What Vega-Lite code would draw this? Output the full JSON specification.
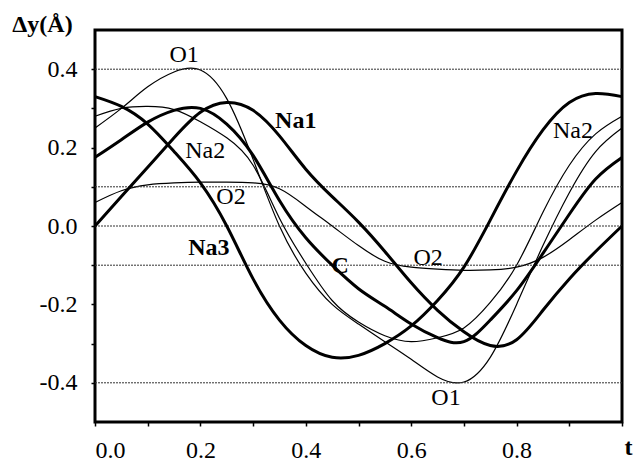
{
  "$schema": "https://vega.github.io/schema/vega-lite/v6.json",
  "width": 527,
  "height": 392,
  "autosize": {"type": "none"},
  "padding": {"left": 95, "top": 30, "right": 17, "bottom": 41},
  "background": "white",
  "config": {
    "view": {"stroke": "black", "strokeWidth": 3},
    "font": "Liberation Serif"
  },
  "datasets": {
    "curves": [
      {"s":"O1","t":0,"y":0.25},{"s":"O1","t":0.05,"y":0.30},{"s":"O1","t":0.1,"y":0.355},{"s":"O1","t":0.15,"y":0.393},{"s":"O1","t":0.2,"y":0.398},{"s":"O1","t":0.25,"y":0.325},{"s":"O1","t":0.3,"y":0.17},{"s":"O1","t":0.35,"y":0.0},{"s":"O1","t":0.4,"y":-0.12},{"s":"O1","t":0.45,"y":-0.2},{"s":"O1","t":0.5,"y":-0.25},{"s":"O1","t":0.55,"y":-0.295},{"s":"O1","t":0.6,"y":-0.34},{"s":"O1","t":0.65,"y":-0.385},{"s":"O1","t":0.7,"y":-0.398},{"s":"O1","t":0.75,"y":-0.335},{"s":"O1","t":0.8,"y":-0.2},{"s":"O1","t":0.85,"y":-0.05},{"s":"O1","t":0.9,"y":0.085},{"s":"O1","t":0.95,"y":0.19},{"s":"O1","t":1,"y":0.25},
      {"s":"Na2","t":0,"y":0.28},{"s":"Na2","t":0.05,"y":0.30},{"s":"Na2","t":0.1,"y":0.305},{"s":"Na2","t":0.15,"y":0.297},{"s":"Na2","t":0.2,"y":0.266},{"s":"Na2","t":0.25,"y":0.225},{"s":"Na2","t":0.3,"y":0.155},{"s":"Na2","t":0.35,"y":0.02},{"s":"Na2","t":0.4,"y":-0.095},{"s":"Na2","t":0.45,"y":-0.19},{"s":"Na2","t":0.5,"y":-0.245},{"s":"Na2","t":0.55,"y":-0.28},{"s":"Na2","t":0.6,"y":-0.295},{"s":"Na2","t":0.65,"y":-0.285},{"s":"Na2","t":0.7,"y":-0.26},{"s":"Na2","t":0.75,"y":-0.195},{"s":"Na2","t":0.8,"y":-0.1},{"s":"Na2","t":0.85,"y":0.035},{"s":"Na2","t":0.9,"y":0.155},{"s":"Na2","t":0.95,"y":0.235},{"s":"Na2","t":1,"y":0.28},
      {"s":"O2","t":0,"y":0.06},{"s":"O2","t":0.05,"y":0.09},{"s":"O2","t":0.1,"y":0.105},{"s":"O2","t":0.15,"y":0.11},{"s":"O2","t":0.2,"y":0.112},{"s":"O2","t":0.25,"y":0.112},{"s":"O2","t":0.3,"y":0.11},{"s":"O2","t":0.35,"y":0.095},{"s":"O2","t":0.4,"y":0.05},{"s":"O2","t":0.45,"y":0.0},{"s":"O2","t":0.5,"y":-0.05},{"s":"O2","t":0.55,"y":-0.09},{"s":"O2","t":0.6,"y":-0.105},{"s":"O2","t":0.65,"y":-0.11},{"s":"O2","t":0.7,"y":-0.113},{"s":"O2","t":0.75,"y":-0.112},{"s":"O2","t":0.8,"y":-0.105},{"s":"O2","t":0.85,"y":-0.08},{"s":"O2","t":0.9,"y":-0.035},{"s":"O2","t":0.95,"y":0.015},{"s":"O2","t":1,"y":0.06},
      {"s":"Na1","t":0,"y":0},{"s":"Na1","t":0.05,"y":0.075},{"s":"Na1","t":0.1,"y":0.15},{"s":"Na1","t":0.15,"y":0.225},{"s":"Na1","t":0.2,"y":0.29},{"s":"Na1","t":0.25,"y":0.315},{"s":"Na1","t":0.3,"y":0.295},{"s":"Na1","t":0.35,"y":0.23},{"s":"Na1","t":0.4,"y":0.145},{"s":"Na1","t":0.45,"y":0.075},{"s":"Na1","t":0.5,"y":0.01},{"s":"Na1","t":0.55,"y":-0.065},{"s":"Na1","t":0.6,"y":-0.145},{"s":"Na1","t":0.65,"y":-0.215},{"s":"Na1","t":0.7,"y":-0.27},{"s":"Na1","t":0.75,"y":-0.305},{"s":"Na1","t":0.8,"y":-0.29},{"s":"Na1","t":0.85,"y":-0.215},{"s":"Na1","t":0.9,"y":-0.135},{"s":"Na1","t":0.95,"y":-0.065},{"s":"Na1","t":1,"y":0},
      {"s":"Na3","t":0,"y":0.33},{"s":"Na3","t":0.05,"y":0.305},{"s":"Na3","t":0.1,"y":0.26},{"s":"Na3","t":0.15,"y":0.19},{"s":"Na3","t":0.2,"y":0.11},{"s":"Na3","t":0.25,"y":0.0},{"s":"Na3","t":0.3,"y":-0.135},{"s":"Na3","t":0.35,"y":-0.24},{"s":"Na3","t":0.4,"y":-0.305},{"s":"Na3","t":0.45,"y":-0.335},{"s":"Na3","t":0.5,"y":-0.33},{"s":"Na3","t":0.55,"y":-0.3},{"s":"Na3","t":0.6,"y":-0.255},{"s":"Na3","t":0.65,"y":-0.19},{"s":"Na3","t":0.7,"y":-0.105},{"s":"Na3","t":0.75,"y":0.015},{"s":"Na3","t":0.8,"y":0.14},{"s":"Na3","t":0.85,"y":0.245},{"s":"Na3","t":0.9,"y":0.315},{"s":"Na3","t":0.95,"y":0.338},{"s":"Na3","t":1,"y":0.33},
      {"s":"C","t":0,"y":0.175},{"s":"C","t":0.05,"y":0.22},{"s":"C","t":0.1,"y":0.265},{"s":"C","t":0.15,"y":0.295},{"s":"C","t":0.2,"y":0.30},{"s":"C","t":0.25,"y":0.26},{"s":"C","t":0.3,"y":0.18},{"s":"C","t":0.35,"y":0.065},{"s":"C","t":0.4,"y":-0.03},{"s":"C","t":0.45,"y":-0.1},{"s":"C","t":0.5,"y":-0.16},{"s":"C","t":0.55,"y":-0.205},{"s":"C","t":0.6,"y":-0.25},{"s":"C","t":0.65,"y":-0.285},{"s":"C","t":0.7,"y":-0.295},{"s":"C","t":0.75,"y":-0.24},{"s":"C","t":0.8,"y":-0.165},{"s":"C","t":0.85,"y":-0.07},{"s":"C","t":0.9,"y":0.03},{"s":"C","t":0.95,"y":0.12},{"s":"C","t":1,"y":0.175}
    ],
    "grid": [{"y":0.4},{"y":0.1},{"y":0},{"y":-0.1},{"y":-0.4}],
    "labels": [
      {"label":"O1","t":0.169,"y":0.437,"bold":false},
      {"label":"Na1","t":0.381,"y":0.269,"bold":true},
      {"label":"Na2","t":0.209,"y":0.192,"bold":false},
      {"label":"O2","t":0.258,"y":0.075,"bold":false},
      {"label":"Na3","t":0.216,"y":-0.055,"bold":true},
      {"label":"C","t":0.465,"y":-0.102,"bold":true},
      {"label":"O2","t":0.632,"y":-0.082,"bold":false},
      {"label":"O1","t":0.666,"y":-0.44,"bold":false},
      {"label":"Na2","t":0.907,"y":0.243,"bold":false}
    ]
  },
  "layer": [
    {
      "data": {"name": "curves"},
      "transform": [{"filter": "datum.s == 'O1' || datum.s == 'O2' || datum.s == 'Na2'"}],
      "mark": {"type": "line", "interpolate": "natural", "stroke": "black", "strokeWidth": 1.2},
      "encoding": {
        "x": {"field": "t", "type": "quantitative", "scale": {"domain": [0, 1], "nice": false},
          "axis": {
            "values": [0,0.1,0.2,0.3,0.4,0.5,0.6,0.7,0.8,0.9,1],
            "labelExpr": "round(datum.value*10) % 2 != 0 || datum.value > 0.95 ? '' : format(datum.value, '.1f')",
            "labelOverlap": false,
            "domain": false, "grid": false,
            "tickColor": "black", "tickWidth": 1.5, "tickSize": 4,
            "labelPadding": 12, "labelFontSize": 24, "labelFont": "Liberation Serif", "labelColor": "black",
            "title": "t", "titleX": 533, "titleY": 25, "titleAlign": "center", "titleBaseline": "middle",
            "titleFont": "Liberation Serif", "titleFontSize": 24, "titleFontWeight": "bold", "titleColor": "black"
          }
        },
        "y": {"field": "y", "type": "quantitative", "scale": {"domain": [-0.5, 0.5], "nice": false},
          "axis": {
            "values": [-0.4,-0.3,-0.2,-0.1,0,0.1,0.2,0.3,0.4],
            "labelExpr": "round(datum.value*10) % 2 != 0 ? '' : replace(format(datum.value, '.1f'), '−', '-')",
            "labelOverlap": false,
            "domain": false, "grid": false,
            "tickColor": "black", "tickWidth": 1.5, "tickSize": 4,
            "labelPadding": 14, "labelFontSize": 24, "labelFont": "Liberation Serif", "labelColor": "black",
            "title": "Δy(Å)", "titleAngle": 0, "titleX": -53, "titleY": -6,
            "titleAlign": "center", "titleBaseline": "middle",
            "titleFont": "Liberation Serif", "titleFontSize": 24, "titleFontWeight": "bold", "titleColor": "black"
          }
        },
        "detail": {"field": "s", "type": "nominal"},
        "order": {"field": "t", "type": "quantitative"}
      }
    },
    {
      "data": {"name": "grid"},
      "mark": {"type": "rule", "stroke": "#333333", "strokeWidth": 1, "strokeDash": [2, 1]},
      "encoding": {
        "y": {"field": "y", "type": "quantitative"}
      }
    },
    {
      "data": {"name": "curves"},
      "transform": [{"filter": "datum.s == 'Na1' || datum.s == 'Na3' || datum.s == 'C'"}],
      "mark": {"type": "line", "interpolate": "natural", "stroke": "black", "strokeWidth": 3},
      "encoding": {
        "x": {"field": "t", "type": "quantitative"},
        "y": {"field": "y", "type": "quantitative"},
        "detail": {"field": "s", "type": "nominal"},
        "order": {"field": "t", "type": "quantitative"}
      }
    },
    {
      "data": {"name": "labels"},
      "transform": [{"filter": "!datum.bold"}],
      "mark": {"type": "text", "font": "Liberation Serif", "fontSize": 24, "color": "black", "align": "center", "baseline": "middle"},
      "encoding": {
        "x": {"field": "t", "type": "quantitative"},
        "y": {"field": "y", "type": "quantitative"},
        "text": {"field": "label"}
      }
    },
    {
      "data": {"name": "labels"},
      "transform": [{"filter": "datum.bold"}],
      "mark": {"type": "text", "font": "Liberation Serif", "fontSize": 24, "fontWeight": "bold", "color": "black", "align": "center", "baseline": "middle"},
      "encoding": {
        "x": {"field": "t", "type": "quantitative"},
        "y": {"field": "y", "type": "quantitative"},
        "text": {"field": "label"}
      }
    }
  ]
}
